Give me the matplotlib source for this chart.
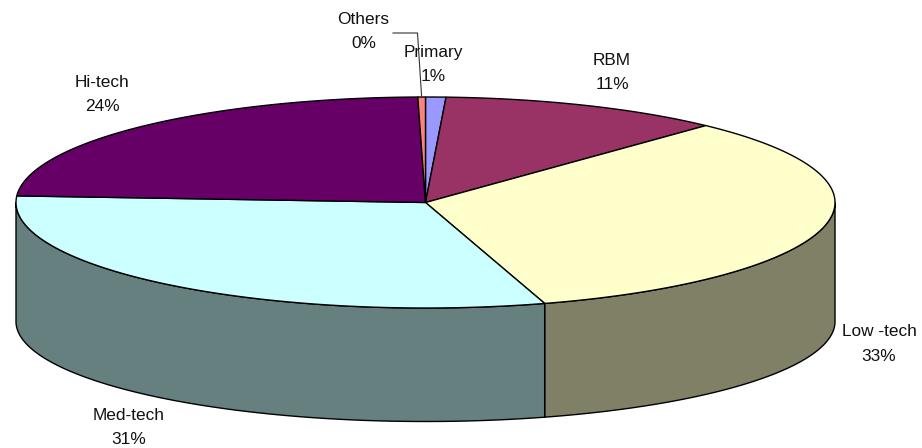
import numpy as np
import matplotlib
matplotlib.use('Agg')
import matplotlib.pyplot as plt

plt.rcParams['font.family'] = ['Liberation Sans', 'DejaVu Sans']

# clockwise from 12 o'clock
categories = ['Primary', 'RBM', 'Low -tech', 'Med-tech', 'Hi-tech', 'Others']
values = [0.8, 11.2, 33.3, 30.7, 23.7, 0.3]
top_colors = ['#9999FF', '#993366', '#FFFFCC', '#CCFFFF', '#660066', '#FF8080']
side_colors = ['#666699', '#662244', '#808066', '#668080', '#440044', '#AA5555']
label_pos = [(433, 64.5), (612, 72.5), (879, 344), (129, 427.5), (102, 94.5), (363.5, 31.5)]

cx, cy = 425.5, 202.5
rx, ry = 409.5, 105.5
# the lower rim is a little flatter than the top one
cy_low, ry_low = 321.5, 100


def rim(t0, t1, yc=cy, yr=ry):
    t = np.radians(np.linspace(t0, t1, max(int(abs(t1 - t0) * 3), 2)))
    return cx + rx * np.sin(t), yc - yr * np.cos(t)


fig = plt.figure(figsize=(9.22, 4.48), dpi=100)
ax = fig.add_axes([0, 0, 1, 1])
ax.set_xlim(0, 922)
ax.set_ylim(448, 0)
ax.axis('off')

edges = np.concatenate([[0], np.cumsum(values)]) / sum(values) * 360

# side walls, only the front half of the rim shows
for i in range(len(values)):
    t0, t1 = max(edges[i], 90), min(edges[i + 1], 270)
    if t0 >= t1:
        continue
    x, y = rim(t0, t1)
    x2, y2 = rim(t0, t1, cy_low, ry_low)
    ax.fill(np.r_[x, x2[::-1]], np.r_[y, y2[::-1]],
            facecolor=side_colors[i], edgecolor='black', linewidth=1.0, zorder=2)

# top face
for i in range(len(values)):
    x, y = rim(edges[i], edges[i + 1])
    ax.fill(np.r_[cx, x], np.r_[cy, y],
            facecolor=top_colors[i], edgecolor='black', linewidth=1.0, zorder=3)

for name, v, (lx, ly) in zip(categories, values, label_pos):
    ax.text(lx, ly, f'{name}\n{round(v)}%', ha='center', va='center',
            fontsize=12.4, color='#111111', linespacing=1.8, zorder=5)

# leader line for the Others label
mid = np.radians((edges[-2] + edges[-1]) / 2 - 360)
ax.plot([393, 417.5, cx + rx * np.sin(mid)], [33, 33, cy - ry * np.cos(mid)],
        color='#333333', linewidth=0.8, zorder=4)

fig.savefig('out.png', dpi=100)
